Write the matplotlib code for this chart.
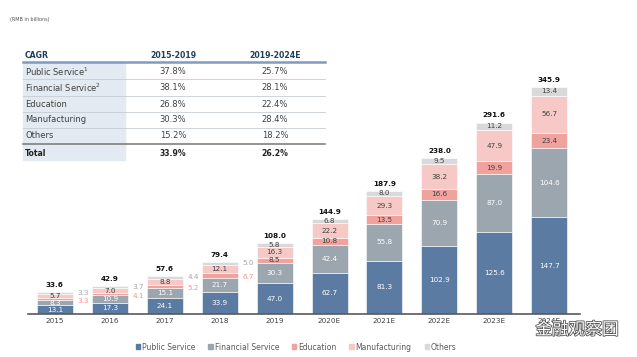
import matplotlib.pyplot as plt
import matplotlib.patheffects as pe
from matplotlib.patches import Patch, Rectangle
from matplotlib.lines import Line2D

years = ['2015', '2016', '2017', '2018', '2019', '2020E', '2021E', '2022E', '2023E', '2024E']
public_service = [13.1, 17.3, 24.1, 33.9, 47.0, 62.7, 81.3, 102.9, 125.6, 147.7]
financial_service = [8.3, 10.9, 15.1, 21.7, 30.3, 42.4, 55.8, 70.9, 87.0, 104.6]
education = [3.3, 4.1, 5.2, 6.7, 8.5, 10.8, 13.5, 16.6, 19.9, 23.4]
manufacturing = [5.7, 7.0, 8.8, 12.1, 16.3, 22.2, 29.3, 38.2, 47.9, 56.7]
others = [3.3, 3.7, 4.4, 5.0, 5.8, 6.8, 8.0, 9.5, 11.2, 13.4]
totals = [33.6, 42.9, 57.6, 79.4, 108.0, 144.9, 187.9, 238.0, 291.6, 345.9]

cagr_rows = ['Public Service$^1$', 'Financial Service$^2$', 'Education', 'Manufacturing', 'Others']
cagr_1519 = ['37.8%', '38.1%', '26.8%', '30.3%', '15.2%']
cagr_1924 = ['25.7%', '28.1%', '22.4%', '28.4%', '18.2%']
total_cagr = ['33.9%', '26.2%']

series = [
    ('Public Service', public_service, '#5C7BA3', 'white'),
    ('Financial Service', financial_service, '#9CA6AE', 'white'),
    ('Education', education, '#EFA29E', '#404040'),
    ('Manufacturing', manufacturing, '#F6C9C7', '#404040'),
    ('Others', others, '#D9D9D9', '#404040'),
]

plt.rcParams['font.family'] = ['DejaVu Sans']
fig = plt.figure(figsize=(6.37, 3.57), dpi=100)
ax = fig.add_axes([28 / 637, 43 / 357, 552 / 637, 262.5 / 357])
ax.patch.set_alpha(0)

fs = 5.2
x = list(range(len(years)))
bottom = [0.0] * len(years)
for name, vals, color, tcolor in series:
    ax.bar(x, vals, bottom=bottom, width=0.655, color=color, edgecolor='white', linewidth=0.4)
    for i, v in enumerate(vals):
        mid = bottom[i] + v / 2
        if i < 4 and name == 'Others':
            ax.text(i + 0.41, totals[i] - 1, f'{v:.1f}', ha='left', va='center', fontsize=fs, color='#A6A6A6')
        elif i < 4 and name == 'Education':
            ax.text(i + 0.41, mid - 2.5, f'{v:.1f}', ha='left', va='center', fontsize=fs, color='#F0958F')
        else:
            ax.text(i, mid, f'{v:.1f}', ha='center', va='center', fontsize=fs, color=tcolor)
    bottom = [b + v for b, v in zip(bottom, vals)]

for i, t in enumerate(totals):
    ax.annotate(f'{t:.1f}', (i, t), xytext=(0, 3), textcoords='offset points',
                ha='center', va='bottom', fontsize=fs, fontweight='bold', color='#111111')

ax.set_xlim(-0.49, 9.56)
ax.set_ylim(0, 400)
ax.set_xticks(x)
ax.set_xticklabels(years, fontsize=fs, color='#404040')
ax.tick_params(axis='x', length=0, pad=3)
ax.set_yticks([])
for s in ['top', 'right', 'left']:
    ax.spines[s].set_visible(False)
ax.spines['bottom'].set_color('#595959')
ax.spines['bottom'].set_linewidth(1.2)

# CAGR table (figure pixel coordinates)
W, H = 637, 357
def fx(px):
    return px / W
def fy(py):
    return 1 - py / H

fig.text(fx(10), fy(19), '(RMB in billions)', fontsize=3.5, color='#555555', va='center')
fig.patches.append(Rectangle((fx(22.5), fy(160)), fx(125) - fx(22.5), fy(62) - fy(160),
                             transform=fig.transFigure, color='#E3EAF2', zorder=0))
head_color = '#1F3F5A'
tfs = 6
fig.text(fx(25), fy(56), 'CAGR', fontsize=5.6, fontweight='bold', color=head_color, va='center')
fig.text(fx(173), fy(56), '2015-2019', fontsize=5.6, fontweight='bold', color=head_color, va='center', ha='center')
fig.text(fx(275), fy(56), '2019-2024E', fontsize=5.6, fontweight='bold', color=head_color, va='center', ha='center')
fig.lines.append(Line2D([fx(22.5), fx(325)], [fy(62), fy(62)], transform=fig.transFigure,
                        color='#7F9BBF', linewidth=1.8))
row_y = [71.7, 87.7, 104, 120, 136]
sep_y = [79.3, 96, 112, 128]
for r, label in enumerate(cagr_rows):
    fig.text(fx(25), fy(row_y[r]), label, fontsize=tfs, color='#404040', va='center')
    fig.text(fx(173), fy(row_y[r]), cagr_1519[r], fontsize=tfs, color='#404040', va='center', ha='center')
    fig.text(fx(275), fy(row_y[r]), cagr_1924[r], fontsize=tfs, color='#404040', va='center', ha='center')
for sy in sep_y:
    fig.lines.append(Line2D([fx(22.5), fx(325)], [fy(sy), fy(sy)], transform=fig.transFigure,
                            color='#C8CDD3', linewidth=0.6))
fig.lines.append(Line2D([fx(22.5), fx(325)], [fy(144.3), fy(144.3)], transform=fig.transFigure,
                        color='#808080', linewidth=1.2))
fig.text(fx(25), fy(153), 'Total', fontsize=5.6, fontweight='bold', color='#222222', va='center')
fig.text(fx(173), fy(153), total_cagr[0], fontsize=5.6, fontweight='bold', color='#222222', va='center', ha='center')
fig.text(fx(275), fy(153), total_cagr[1], fontsize=5.6, fontweight='bold', color='#222222', va='center', ha='center')

handles = [Patch(color=c, label=n) for n, _, c, _ in series]
fig.legend(handles=handles, loc='center', bbox_to_anchor=(0.465, 10 / 357), ncol=5, frameon=False,
           fontsize=5.5, handlelength=0.55, handleheight=0.55, handletextpad=0.25, columnspacing=1.7,
           labelcolor='#595959')

fig.text(fx(577), fy(330), '金融观察团', fontsize=12, color='white', ha='center', va='center',
         family=['Noto Sans CJK SC', 'DejaVu Sans'],
         path_effects=[pe.withStroke(linewidth=1.2, foreground='#555555')])

plt.savefig('out.png', dpi=100)
plt.close()
